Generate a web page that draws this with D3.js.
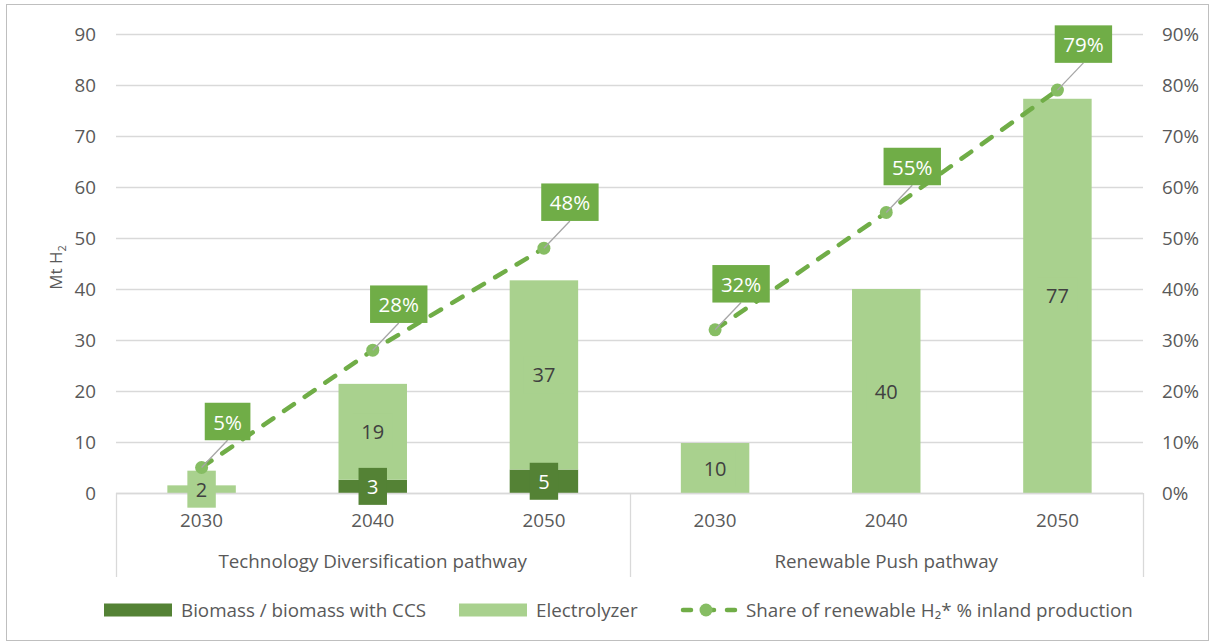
<!DOCTYPE html>
<html>
<head>
<meta charset="utf-8">
<script src="https://cdn.jsdelivr.net/npm/d3@7"></script>
<style>
  html, body { margin: 0; padding: 0; background: #fff; }
  svg { display: block; font-family: "Open Sans", sans-serif; }
</style>
</head>
<body>
<svg id="chart" width="1213" height="643"></svg>
<script>
// Hydrogen production by pathway (Mt H2) with renewable share (%)
const groups = ["Technology Diversification pathway", "Renewable Push pathway"];
const years = ["2030", "2040", "2050"];
const biomass = [0, 2.6, 4.6, 0, 0, 0];
const electrolyzer = [1.5, 18.8, 37.1, 9.8, 40.0, 77.3];
const renewableShare = [5, 28, 48, 32, 55, 79];
const leftTicks = [0, 10, 20, 30, 40, 50, 60, 70, 80, 90];
const rightTicks = [0, 10, 20, 30, 40, 50, 60, 70, 80, 90];
const legendLabels = ["Biomass / biomass with CCS", "Electrolyzer", "Share of renewable H\u2082* % inland production"];

const FONT = "'Open Sans', sans-serif";
const COL_BIO = "#548235", COL_ELE = "#A9D18E", COL_LINE = "#70AD47", COL_MARK = "#86BD63";
const TXT = "#595959", GRID = "#D9D9D9";
const FS = 18.8;

const W = 1213, H = 643;
const m = { left: 116, right: 70, top: 34, bottom: 150 };
const x0 = m.left, x1 = W - m.right, yBase = H - m.bottom;

const svg = d3.select("#chart");

// outer frame
svg.append("rect").attr("x", 6.5).attr("y", 4.5).attr("width", 1202).attr("height", 636)
  .attr("fill", "none").attr("stroke", "#BFBFBF").attr("stroke-width", 1);

const cats = d3.range(groups.length * years.length);
const x = d3.scaleBand().domain(cats).range([x0, x1]).paddingInner(0.6).paddingOuter(0.3);
const y = d3.scaleLinear().domain([0, 90]).range([yBase, m.top]);
const yR = d3.scaleLinear().domain([0, 90]).range([yBase, m.top]);
const cx = i => x(i) + x.bandwidth() / 2;

// gridlines
svg.append("g").selectAll("line").data(leftTicks).join("line")
  .attr("x1", x0).attr("x2", x1)
  .attr("y1", d => Math.round(y(d)) + 0.5).attr("y2", d => Math.round(y(d)) + 0.5)
  .attr("stroke", GRID).attr("stroke-width", 1.3);

// left axis labels
const axL = svg.append("g").attr("transform", `translate(${x0},0)`)
  .call(d3.axisLeft(y).tickValues(leftTicks).tickSize(0).tickPadding(20));
axL.select(".domain").remove();
axL.selectAll("text").attr("fill", TXT).style("font-size", FS + "px").style("font-family", FONT);

// right axis labels
const axR = svg.append("g").attr("transform", `translate(${x1},0)`)
  .call(d3.axisRight(yR).tickValues(rightTicks).tickSize(0).tickPadding(19).tickFormat(d => d + "%"));
axR.select(".domain").remove();
axR.selectAll("text").attr("fill", TXT).style("font-size", FS + "px").style("font-family", FONT);

// y-axis title
const yt = svg.append("text").attr("transform", `translate(62,${(m.top + yBase) / 2 + 4}) rotate(-90)`)
  .attr("text-anchor", "middle").attr("fill", TXT).style("font-size", "17px");
yt.append("tspan").text("Mt H");
yt.append("tspan").text("2").style("font-size", "11px").attr("dy", 4);

// stacked bars
const stackData = cats.map(i => ({ i, bio: biomass[i], ele: electrolyzer[i] }));
const bars = svg.append("g");
bars.selectAll("rect.bio").data(stackData).join("rect").attr("class", "bio")
  .attr("x", d => x(d.i)).attr("width", x.bandwidth())
  .attr("y", d => y(d.bio)).attr("height", d => y(0) - y(d.bio)).attr("fill", COL_BIO);
bars.selectAll("rect.ele").data(stackData).join("rect").attr("class", "ele")
  .attr("x", d => x(d.i)).attr("width", x.bandwidth())
  .attr("y", d => y(d.bio + d.ele)).attr("height", d => y(d.bio) - y(d.bio + d.ele)).attr("fill", COL_ELE);

// baseline
svg.append("line").attr("x1", x0).attr("x2", x1).attr("y1", yBase + 0.5).attr("y2", yBase + 0.5)
  .attr("stroke", GRID).attr("stroke-width", 1.3);

// category axis: years, groups, separators
const catAxis = svg.append("g");
catAxis.selectAll("text.yr").data(cats).join("text").attr("class", "yr")
  .attr("x", cx).attr("y", yBase + 34).attr("text-anchor", "middle")
  .attr("fill", TXT).style("font-size", FS + "px").text(i => years[i % years.length]);
const sepX = [x0, (x(2) + x.bandwidth() + x(3)) / 2, x1];
catAxis.selectAll("line.sep").data(sepX).join("line").attr("class", "sep")
  .attr("x1", d => Math.round(d) + 0.5).attr("x2", d => Math.round(d) + 0.5)
  .attr("y1", yBase).attr("y2", yBase + 84).attr("stroke", GRID).attr("stroke-width", 1.3);
catAxis.selectAll("text.grp").data(groups).join("text").attr("class", "grp")
  .attr("x", (d, g) => (sepX[g] + sepX[g + 1]) / 2).attr("y", yBase + 75).attr("text-anchor", "middle")
  .attr("fill", TXT).style("font-size", FS + "px").text(d => d);

// value label helper: box + centred text
function boxLabel(g, cxp, cyp, txt, fs, fill, color) {
  const t = g.append("text").attr("x", cxp).attr("y", cyp).attr("text-anchor", "middle")
    .attr("dominant-baseline", "central").attr("fill", color).style("font-size", fs + "px").text(txt);
  const bb = t.node().getBBox();
  const bw = bb.width + 17, bh = fs + 17;
  g.insert("rect", "text").attr("x", cxp - bw / 2).attr("y", cyp - bh / 2)
    .attr("width", bw).attr("height", bh).attr("fill", fill);
  return { x: cxp - bw / 2, y: cyp - bh / 2, w: bw, h: bh };
}

const fmt0 = d3.format(".0f");
const barLabels = svg.append("g");
stackData.forEach(d => {
  if (d.ele > 0) {
    const g = barLabels.append("g");
    boxLabel(g, cx(d.i), (y(d.bio) + y(d.bio + d.ele)) / 2, fmt0(d.ele), 20, COL_ELE, "#404040");
  }
  if (d.bio > 0) {
    const g = barLabels.append("g");
    boxLabel(g, cx(d.i), (y(0) + y(d.bio)) / 2, fmt0(d.bio), 20, COL_BIO, "#FFFFFF");
  }
});

// renewable share line, one segment per pathway
const line = d3.line().x(i => cx(i)).y(i => yR(renewableShare[i]));
const lineG = svg.append("g");
groups.forEach((gname, g) => {
  const idx = d3.range(g * years.length, (g + 1) * years.length);
  lineG.append("path").attr("d", line(idx)).attr("fill", "none")
    .attr("stroke", COL_LINE).attr("stroke-width", 4.5)
    .attr("stroke-dasharray", "12,13").attr("stroke-linecap", "round");
});
lineG.selectAll("circle").data(cats).join("circle")
  .attr("cx", cx).attr("cy", i => yR(renewableShare[i])).attr("r", 6.5).attr("fill", COL_MARK);

// share labels with leader lines
const shareG = svg.append("g");
cats.forEach(i => {
  const px = cx(i), py = yR(renewableShare[i]);
  const bcx = px + 26, bcy = py - 46;
  const leader = shareG.append("line");
  const g = shareG.append("g");
  const b = boxLabel(g, bcx, bcy, renewableShare[i] + "%", 20.5, COL_LINE, "#FFFFFF");
  leader.attr("x1", px).attr("y1", py).attr("x2", bcx).attr("y2", b.y + b.h)
    .attr("stroke", "#A6A6A6").attr("stroke-width", 1.3);
});

// legend
const lg = svg.append("g").style("font-size", FS + "px");
const ly = 610;
lg.append("rect").attr("x", 104).attr("y", ly - 6.5).attr("width", 68).attr("height", 13).attr("fill", COL_BIO);
lg.append("text").attr("x", 181).attr("y", ly).attr("dominant-baseline", "central").attr("fill", TXT).text(legendLabels[0]);
lg.append("rect").attr("x", 459).attr("y", ly - 6.5).attr("width", 68).attr("height", 13).attr("fill", COL_ELE);
lg.append("text").attr("x", 536).attr("y", ly).attr("dominant-baseline", "central").attr("fill", TXT).text(legendLabels[1]);
lg.append("line").attr("x1", 683).attr("x2", 735).attr("y1", ly).attr("y2", ly)
  .attr("stroke", COL_LINE).attr("stroke-width", 4.5).attr("stroke-dasharray", "10,13").attr("stroke-dashoffset", 2).attr("stroke-linecap", "round");
lg.append("circle").attr("cx", 706).attr("cy", ly).attr("r", 6.5).attr("fill", COL_MARK);
lg.append("text").attr("x", 746).attr("y", ly).attr("dominant-baseline", "central").attr("fill", TXT).text(legendLabels[2]);
</script>
</body>
</html>
